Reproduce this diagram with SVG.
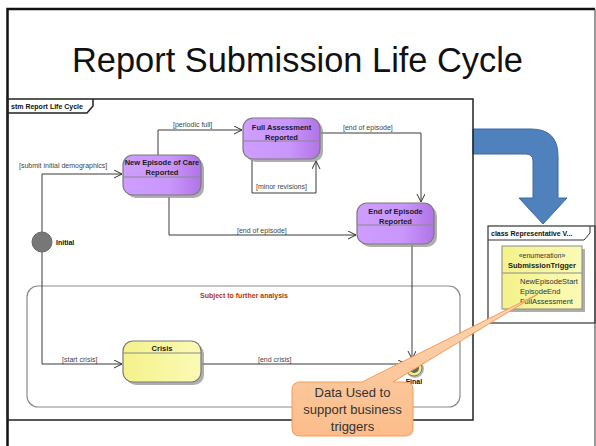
<svg xmlns="http://www.w3.org/2000/svg" width="596" height="446" viewBox="0 0 596 446">
  <defs>
    <linearGradient id="gPurple" x1="0" y1="0" x2="1" y2="0">
      <stop offset="0" stop-color="#cf9cff"/>
      <stop offset="0.6" stop-color="#c996fb"/>
      <stop offset="1" stop-color="#b174e6"/>
    </linearGradient>
    <linearGradient id="gYellow" x1="0" y1="0" x2="1" y2="0">
      <stop offset="0" stop-color="#f4f28a"/>
      <stop offset="1" stop-color="#fbfab6"/>
    </linearGradient>
    <linearGradient id="gOrange" x1="0" y1="0" x2="0" y2="1">
      <stop offset="0" stop-color="#fdd6b5"/>
      <stop offset="1" stop-color="#fbbd8a"/>
    </linearGradient>
    <marker id="arr" markerUnits="userSpaceOnUse" markerWidth="10" markerHeight="10" refX="8" refY="4" orient="auto">
      <path d="M0,0 L8,4 L0,8" fill="none" stroke="#333" stroke-width="1"/>
    </marker>
    <style>
      .frame { fill: none; stroke: #222; stroke-width: 1.5; }
      .tab { font-family: "Liberation Sans", Arial, sans-serif; font-size: 7px; font-weight: bold; fill: #111; }
      .lbl { font-family: "Liberation Sans", Arial, sans-serif; font-size: 7px; fill: #444; }
      .name { font-family: "Liberation Sans", Arial, sans-serif; font-size: 7.5px; font-weight: bold; fill: #1a1a1a; text-anchor: middle; }
      .attr { font-family: "Liberation Sans", Arial, sans-serif; font-size: 7.5px; fill: #333; }
      .conn { fill: none; stroke: #3a3a3a; stroke-width: 1; }
      .shadow { fill: #8c8c8c; opacity: 0.7; }
      .state { stroke: #7a7a7a; stroke-width: 1.2; }
      .div { stroke: #8a8a8a; stroke-width: 1; }
    </style>
  </defs>

  <rect width="596" height="446" fill="#fff"/>

  <!-- slide frame -->
  <path d="M7.5,446 V9 H595" fill="none" stroke="#111" stroke-width="2.5"/>
  <path d="M595,9 V446" fill="none" stroke="#555" stroke-width="1.2"/>

  <text x="72" y="72" font-family="Liberation Sans, Arial, sans-serif" font-size="35" fill="#111" textLength="451" lengthAdjust="spacingAndGlyphs">Report Submission Life Cycle</text>

  <!-- blue bent arrow -->
  <path d="M473,129 H531 Q558,129 558,156 V198 H567 L543,224 L519,198 H533 V161 Q533,154 526,154 H473 Z" fill="#4f81bd" stroke="#3b6aa3" stroke-width="1"/>

  <!-- state machine frame -->
  <g id="stm-frame">
    <rect x="7.5" y="99" width="465.5" height="321" class="frame"/>
    <path d="M7.5,113 H87 L93,106 V99" class="frame" stroke-width="1"/>
    <text x="11" y="109" class="tab">stm Report Life Cycle</text>
  </g>

  <!-- region -->
  <g id="region">
    <rect x="27" y="286" width="433" height="121" rx="11" fill="none" stroke="#8a8a8a" stroke-width="1.2"/>
    <text x="200" y="298" font-family="Liberation Sans, Arial, sans-serif" font-size="7px" font-weight="bold" fill="#b5360c">Subject to further analysis</text>
  </g>

  <!-- connectors -->
  <g id="connectors">
    <path class="conn" d="M42,232 V174 H122" marker-end="url(#arr)"/>
    <path class="conn" d="M42,252 V364 H122" marker-end="url(#arr)"/>
    <path class="conn" d="M158,155 V130 H242" marker-end="url(#arr)"/>
    <path class="conn" d="M252,160 V193 H316 V161" marker-end="url(#arr)"/>
    <path class="conn" d="M321,133 H421 V202" marker-end="url(#arr)"/>
    <path class="conn" d="M169,197 V235 H356" marker-end="url(#arr)"/>
    <path class="conn" d="M412,245 V359" marker-end="url(#arr)"/>
    <path class="conn" d="M202,364 H406" marker-end="url(#arr)"/>
    <text x="19" y="168" class="lbl">[submit initial demographics]</text>
    <text x="173" y="127" class="lbl">[periodic full]</text>
    <text x="256" y="189" class="lbl">[minor revisions]</text>
    <text x="343" y="130" class="lbl">[end of episode]</text>
    <text x="237" y="233" class="lbl">[end of episode]</text>
    <text x="62" y="362" class="lbl">[start crisis]</text>
    <text x="258" y="362" class="lbl">[end crisis]</text>
  </g>

  <!-- initial pseudo-state -->
  <g id="initial">
    <circle cx="42" cy="242" r="10" fill="#777" stroke="#666" stroke-width="1"/>
    <text x="56" y="245" class="tab">Initial</text>
  </g>

  <!-- final state -->
  <g id="final">
    <circle cx="415" cy="369" r="9" fill="#9a9a9a" opacity="0.7"/>
    <circle cx="414" cy="368" r="8" fill="#f2ef7e" stroke="#777" stroke-width="1"/>
    <circle cx="414" cy="368" r="5" fill="#666"/>
    <text x="414" y="384" class="tab" text-anchor="middle" font-size="6.5px">Final</text>
  </g>

  <!-- states -->
  <g id="new-episode">
    <rect x="126" y="158" width="78" height="40" rx="10" class="shadow"/>
    <rect x="123" y="155" width="78" height="40" rx="10" fill="url(#gPurple)" class="state"/>
    <line x1="123" y1="177" x2="201" y2="177" class="div"/>
    <text x="162" y="165" class="name">New Episode of Care</text>
    <text x="162" y="175" class="name">Reported</text>
  </g>

  <g id="full-assessment">
    <rect x="246" y="121" width="77" height="41" rx="10" class="shadow"/>
    <rect x="243" y="118" width="77" height="41" rx="10" fill="url(#gPurple)" class="state"/>
    <line x1="243" y1="141" x2="320" y2="141" class="div"/>
    <text x="281.5" y="130" class="name">Full Assessment</text>
    <text x="281.5" y="140" class="name">Reported</text>
  </g>

  <g id="end-of-episode">
    <rect x="360" y="206" width="77" height="41" rx="10" class="shadow"/>
    <rect x="357" y="203" width="77" height="41" rx="10" fill="url(#gPurple)" class="state"/>
    <line x1="357" y1="225" x2="434" y2="225" class="div"/>
    <text x="395.5" y="214" class="name">End of Episode</text>
    <text x="395.5" y="224" class="name">Reported</text>
  </g>

  <g id="crisis">
    <rect x="126" y="344" width="78" height="41" rx="10" class="shadow"/>
    <rect x="123" y="341" width="78" height="41" rx="10" fill="url(#gYellow)" class="state"/>
    <line x1="123" y1="353" x2="201" y2="353" class="div"/>
    <text x="162" y="351" class="name">Crisis</text>
  </g>

  <!-- class diagram frame -->
  <g id="class-frame">
    <rect x="488" y="226" width="107" height="97" fill="none" stroke="#333" stroke-width="1.2"/>
    <path d="M488,240 H584 L590,233 V226" fill="none" stroke="#333" stroke-width="1"/>
    <text x="491" y="236" class="tab">class Representative V...</text>
  </g>

  <g id="submission-trigger">
    <rect x="505" y="249" width="80" height="63" class="shadow"/>
    <rect x="502" y="246" width="80" height="63" fill="url(#gYellow)" stroke="#8a8a8a" stroke-width="1"/>
    <line x1="502" y1="273" x2="582" y2="273" class="div"/>
    <text x="542" y="258" font-family="Liberation Sans, Arial, sans-serif" font-size="7px" fill="#333" text-anchor="middle">«enumeration»</text>
    <text x="542" y="268" class="name">SubmissionTrigger</text>
    <text x="520" y="284" class="attr">NewEpisodeStart</text>
    <text x="520" y="294" class="attr">EpisodeEnd</text>
    <text x="520" y="304" class="attr">FullAssessment</text>
  </g>

  <!-- callout -->
  <g id="callout">
    <path d="M300,382 H362 L538,294 L393,382 H405 Q413,382 413,390 V428 Q413,436 405,436 H300 Q292,436 292,428 V390 Q292,382 300,382 Z" fill="url(#gOrange)" stroke="#f59a55" stroke-width="1"/>
    <text x="352.5" y="397" font-family="Liberation Sans, Arial, sans-serif" font-size="13" fill="#333" text-anchor="middle">Data Used to</text>
    <text x="352.5" y="414" font-family="Liberation Sans, Arial, sans-serif" font-size="13" fill="#333" text-anchor="middle">support business</text>
    <text x="352.5" y="431" font-family="Liberation Sans, Arial, sans-serif" font-size="13" fill="#333" text-anchor="middle">triggers</text>
  </g>
</svg>
